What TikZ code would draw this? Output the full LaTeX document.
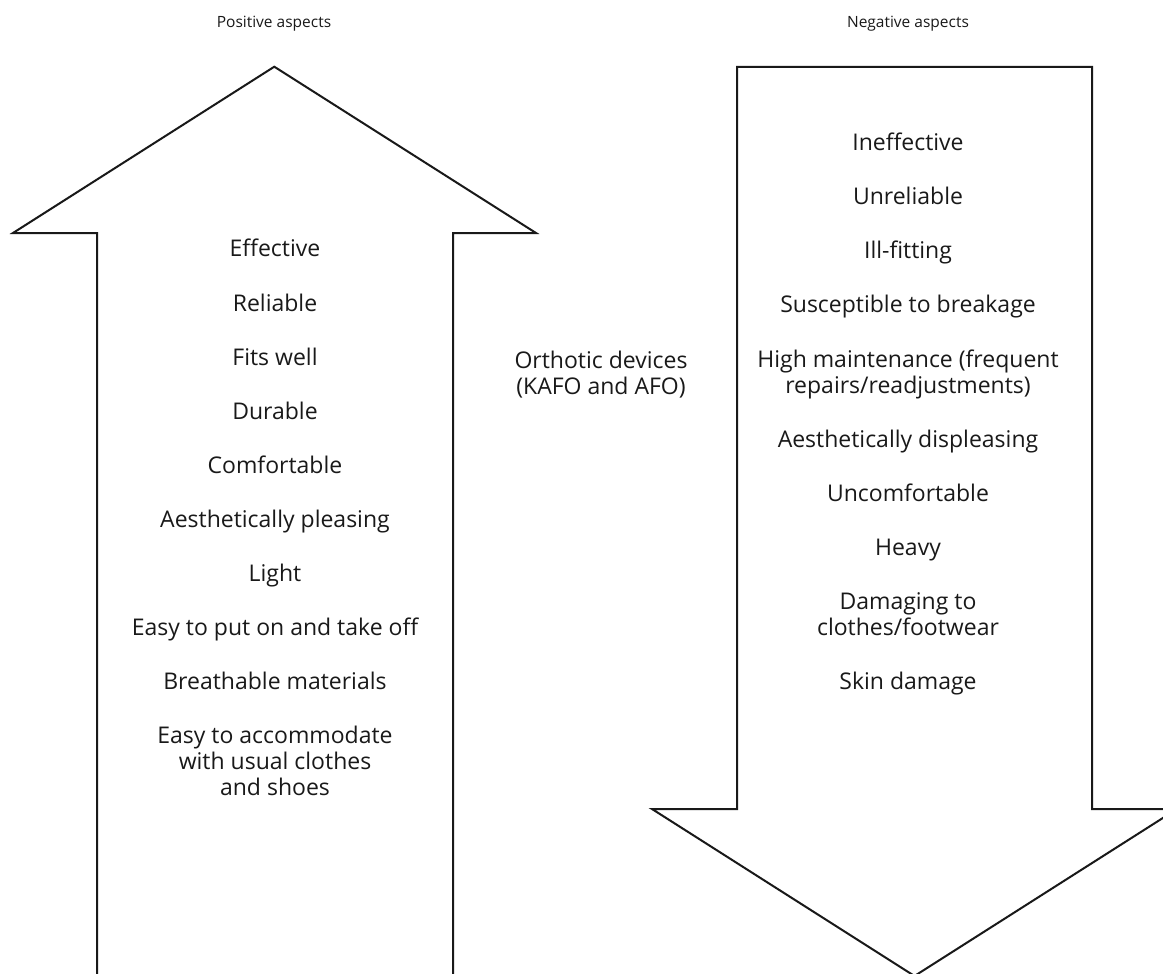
\documentclass[tikz,border=0pt]{standalone}
\usepackage{fontspec}
\setmainfont{Open Sans}
\begin{document}
\begin{tikzpicture}[x=1pt,y=-1pt,
  outline/.style={draw=black!90,line width=2pt,line join=miter},
  item/.style={anchor=base,align=center,inner sep=0pt,font=\fontsize{23}{26}\selectfont,text=black!90},
  head/.style={anchor=base,inner sep=0pt,font=\fontsize{15.5}{18}\selectfont,text=black!90}]
\useasboundingbox (0,0) rectangle (1163,974);
\begin{scope}
\clip (0,0) rectangle (1163,974);
\draw[outline] (97,980) -- (97,233) -- (13,233) -- (274.3,66.7) -- (536,233) -- (453,233) -- (453,980);
\draw[outline] (737,809) -- (737,67) -- (1092,67) -- (1092,809) -- (1177,809) -- (914.5,976) -- (652,809) -- cycle;
\end{scope}
\node[head] (pos) at (274,28) {Positive aspects};
\node[head] (neg) at (908,28) {Negative aspects};
\node[item] (orth) at (601,394) {Orthotic devices\\(KAFO and AFO)};
% positive
\node[item] (p1) at (275,256) {Effective};
\node[item] (p2) at (275,311) {Reliable};
\node[item] (p3) at (275,365) {Fits well};
\node[item] (p4) at (275,419) {Durable};
\node[item] (p5) at (275,473) {Comfortable};
\node[item] (p6) at (275,527) {Aesthetically pleasing};
\node[item] (p7) at (275,581) {Light};
\node[item] (p8) at (275,635) {Easy to put on and take off};
\node[item] (p9) at (275,689) {Breathable materials};
\node[item] (p10) at (275,795) {Easy to accommodate\\with usual clothes\\and shoes};
% negative
\node[item] (n1) at (908,150) {Ineffective};
\node[item] (n2) at (908,204) {Unreliable};
\node[item] (n3) at (908,258) {Ill-fitting};
\node[item] (n4) at (908,312) {Susceptible to breakage};
\node[item] (n5) at (908,393) {High maintenance (frequent\\repairs/readjustments)};
\node[item] (n6) at (908,447) {Aesthetically displeasing};
\node[item] (n7) at (908,501) {Uncomfortable};
\node[item] (n8) at (908,555) {Heavy};
\node[item] (n9) at (908,635) {Damaging to\\clothes/footwear};
\node[item] (n10) at (908,689) {Skin damage};
\end{tikzpicture}
\end{document}
